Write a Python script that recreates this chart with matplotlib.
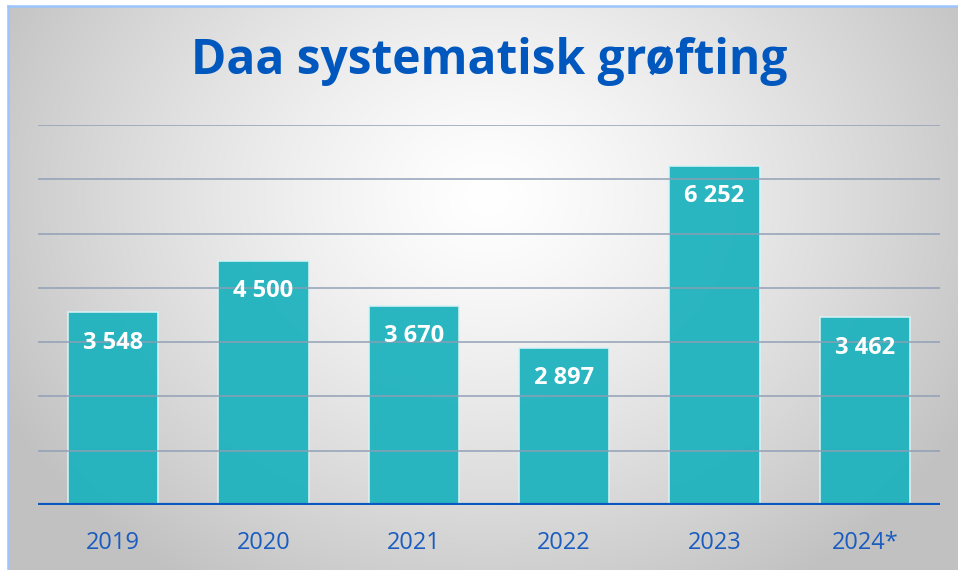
import matplotlib
matplotlib.use('agg')
import matplotlib.pyplot as plt
import numpy as np

years = ['2019', '2020', '2021', '2022', '2023', '2024*']
values = [3548, 4500, 3670, 2897, 6252, 3462]
labels = ['3 548', '4 500', '3 670', '2 897', '6 252', '3 462']

W, H = 958, 570
fig = plt.figure(figsize=(W / 100, H / 100), dpi=100)
plt.rcParams['font.family'] = ['Open Sans', 'DejaVu Sans']

# background panel with radial gradient
bg = fig.add_axes([8 / W, 0, 1 - 8 / W, 1 - 6 / H])
yy, xx = np.mgrid[0:564, 0:950]
d = np.sqrt(((xx - 480) / 600.0) ** 2 + ((yy - 190) / 500.0) ** 2)
shade = np.clip(1.0 - 0.27 * d ** 1.3, 0.76, 1.0)
img = np.dstack([shade, shade, shade])
bg.imshow(img, aspect='auto', extent=[0, 1, 0, 1], origin='upper')
bg.set_xlim(0, 1)
bg.set_ylim(0, 1)
bg.set_xticks([])
bg.set_yticks([])
for s in ['right', 'bottom']:
    bg.spines[s].set_visible(False)
for s in ['left', 'top']:
    bg.spines[s].set_color('#9cc4ff')
    bg.spines[s].set_linewidth(1.8)

# main chart
ax = fig.add_axes([38 / W, (H - 505) / H, 902 / W, (505 - 125) / H])
ax.patch.set_alpha(0)
x = np.arange(len(years))
ax.bar(x, values, width=0.6, color='#1fb3be', alpha=0.95,
       edgecolor='#d8f2f4', linewidth=1.2, zorder=2)
for i in range(1, 8):
    ax.axhline(i * 1000, color='#8e9db5', lw=1.4, alpha=0.75, zorder=3)
ax.axhline(0, color='#0a58bf', lw=3, zorder=4)
for xi, v, lab in zip(x, values, labels):
    ax.annotate(lab, (xi, v), xytext=(0, -22), textcoords='offset points',
                ha='center', va='center', color='white', fontsize=17,
                fontweight='bold', zorder=5)
ax.set_xlim(-0.5, 5.5)
ax.set_ylim(0, 7000)
ax.set_xticks(x)
ax.set_xticklabels(years, fontsize=17, color='#1a5cbf')
ax.tick_params(axis='x', length=0, pad=19)
ax.set_yticks([])
for s in ax.spines.values():
    s.set_visible(False)

fig.text(489 / W, 1 - 62 / H, 'Daa systematisk grøfting', ha='center', va='center',
         fontsize=34.5, fontweight='bold', color='#0057bd')

fig.savefig('out.png', dpi=100, facecolor='white')
